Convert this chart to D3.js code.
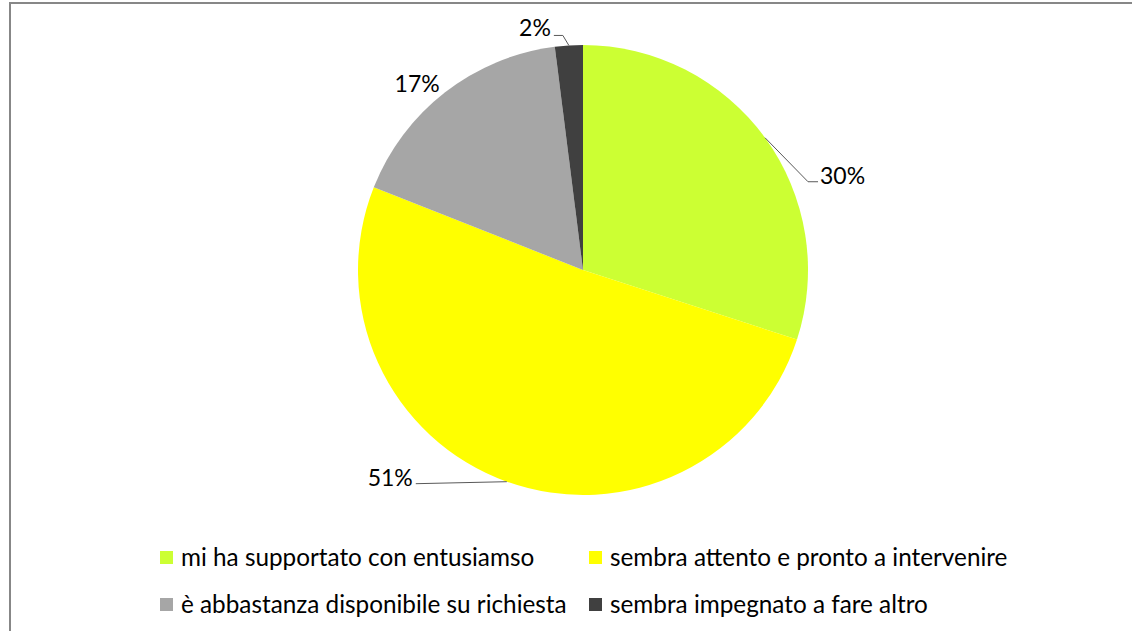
<!DOCTYPE html>
<html>
<head>
<meta charset="utf-8">
<script src="https://cdn.jsdelivr.net/npm/d3@7"></script>
<style>
  html, body { margin: 0; padding: 0; background: #fff; }
  svg { display: block; }
  text { font-family: Lato, "Liberation Sans", sans-serif; fill: #000; }
</style>
</head>
<body>
<svg id="chart" width="1132" height="631"></svg>
<script>
// ---- data ----
const categories = [
  "mi ha supportato con entusiamso",
  "sembra attento e pronto a intervenire",
  "è abbastanza disponibile su richiesta",
  "sembra impegnato a fare altro"
];
const values = [30, 51, 17, 2];
const colors = ["#CCFF33", "#FFFF00", "#A6A6A6", "#404040"];
const valueLabels = ["30%", "51%", "17%", "2%"];

// ---- layout (label placement relative to slice edge point) ----
const labelLayout = [
  { line: [[43, 44], [53, 44]], text: [55, 46], anchor: "start" },
  { line: [[-91, 2]], text: [-94, 4], anchor: "end" },
  { line: null, text: [-28, 0], anchor: "middle" },
  { line: [[-6, -10], [-15, -10]], text: [-18, -9], anchor: "end" }
];

const W = 1132, H = 631;
const cx = 583, cy = 270, R = 225;

const svg = d3.select("#chart");

// frame
svg.append("line").attr("x1", 10).attr("y1", 2).attr("x2", 10).attr("y2", H)
  .attr("stroke", "#878787").attr("stroke-width", 2);
svg.append("line").attr("x1", 9).attr("y1", 3).attr("x2", W).attr("y2", 3)
  .attr("stroke", "#878787").attr("stroke-width", 2);

const pie = d3.pie().sort(null).value(d => d)(values);
const arc = d3.arc().innerRadius(0).outerRadius(R);

const g = svg.append("g").attr("transform", `translate(${cx},${cy})`);
g.selectAll("path.slice").data(pie).join("path")
  .attr("class", "slice")
  .attr("d", arc)
  .attr("fill", (d, i) => colors[i]);

// labels
pie.forEach((d, i) => {
  const mid = (d.startAngle + d.endAngle) / 2;
  const ex = R * Math.sin(mid), ey = -R * Math.cos(mid);
  const L = labelLayout[i];
  if (L.line) {
    const pts = [[ex, ey]].concat(L.line.map(p => [ex + p[0], ey + p[1]]));
    g.append("path")
      .attr("d", d3.line()(pts))
      .attr("fill", "none")
      .attr("stroke", "#595959")
      .attr("stroke-width", 1);
  }
  g.append("text")
    .attr("x", ex + L.text[0])
    .attr("y", ey + L.text[1])
    .attr("text-anchor", L.anchor)
    .attr("font-size", 23)
    .text(valueLabels[i]);
});

// legend
const legendCols = [160, 589];
const legendRows = [558, 605];
const legend = svg.append("g");
categories.forEach((c, i) => {
  const x = legendCols[i % 2], y = legendRows[Math.floor(i / 2)];
  legend.append("rect").attr("x", x).attr("y", y - 7).attr("width", 13).attr("height", 13)
    .attr("fill", colors[i]);
  legend.append("text").attr("x", x + 21).attr("y", y + 8)
    .attr("font-size", 24.3)
    .text(c);
});
</script>
</body>
</html>
